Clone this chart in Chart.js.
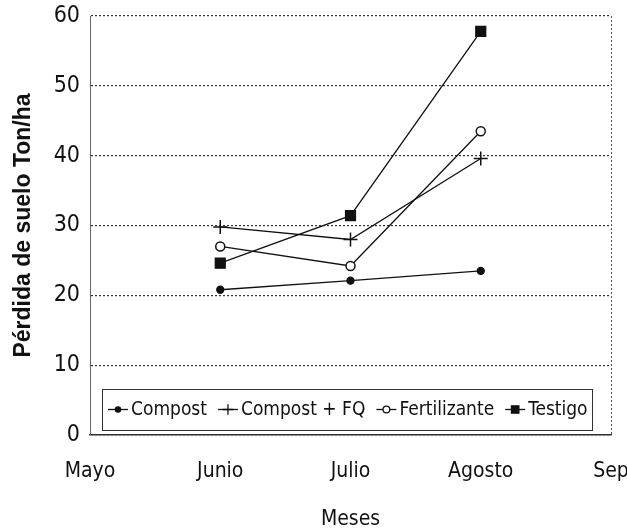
<!DOCTYPE html>
<html>
<head>
<meta charset="utf-8">
<script src="https://cdn.jsdelivr.net/npm/chart.js@4"></script>
<style>
  html, body { margin: 0; padding: 0; background: #fff; }
  #wrap { width: 627px; height: 530px; }
</style>
</head>
<body>
<div id="wrap"><canvas id="myChart" width="627" height="530"></canvas></div>
<script>
// months on the x axis
const meses = ['Mayo', 'Junio', 'Julio', 'Agosto', 'Sep'];

// soil loss Ton/ha (no data for Mayo and Sep)
const compost = [null, 20.8, 22.1, 23.5, null];
const compostFQ = [null, 29.8, 28.0, 39.6, null];
const fertilizante = [null, 27.0, 24.2, 43.5, null];
const testigo = [null, 24.6, 31.4, 57.8, null];

const narrow = "'DejaVu Sans Condensed', 'Liberation Sans', sans-serif";

// legend drawn inside the plot, in a box, like the original
const boxLegend = {
    id: 'boxLegend',
    afterDraw(chart) {
        const c = chart.ctx;
        const a = chart.chartArea;
        c.save();
        // dashed right border of plot
        c.strokeStyle = '#555';
        c.lineWidth = 1;
        c.setLineDash([2, 2]);
        c.beginPath();
        c.moveTo(a.right + 0.5, a.top);
        c.lineTo(a.right + 0.5, a.bottom);
        c.stroke();

        const x0 = a.left + 12, x1 = a.right - 19;
        const y0 = a.bottom - 46, y1 = a.bottom - 5;
        c.fillStyle = '#fff';
        c.fillRect(x0, y0, x1 - x0, y1 - y0);
        c.strokeStyle = '#333';
        c.setLineDash([]);
        c.strokeRect(x0 + 0.5, y0 + 0.5, x1 - x0, y1 - y0);

        c.font = '19px ' + narrow;
        c.textBaseline = 'middle';
        const cy = (y0 + y1) / 2;
        let x = x0 + 6;
        chart.data.datasets.forEach(ds => {
            c.strokeStyle = '#111';
            c.lineWidth = 1.3;
            c.beginPath();
            c.moveTo(x, cy);
            c.lineTo(x + 20, cy);
            c.stroke();
            c.fillStyle = ds.pointBackgroundColor;
            c.strokeStyle = '#111';
            Chart.helpers.drawPoint(c, {
                pointStyle: ds.pointStyle,
                radius: ds.pointRadius * 0.75,
                rotation: 0,
                borderWidth: 1.2
            }, x + 10, cy);
            x += 23;
            c.fillStyle = '#111';
            c.fillText(ds.label, x, cy + 1);
            x += c.measureText(ds.label).width + 11;
        });
        c.restore();
    }
};

const ctx = document.getElementById('myChart').getContext('2d');

const myChart = new Chart(ctx, {
    type: 'line',
    data: {
        labels: meses,
        datasets: [
            {
                label: 'Compost',
                data: compost,
                borderColor: '#111',
                borderWidth: 1.3,
                pointStyle: 'circle',
                pointRadius: 3.5,
                pointBackgroundColor: '#111',
                pointBorderColor: '#111'
            },
            {
                label: 'Compost + FQ',
                data: compostFQ,
                borderColor: '#111',
                borderWidth: 1.3,
                pointStyle: 'cross',
                pointRadius: 7,
                pointBorderWidth: 1.5,
                pointBackgroundColor: '#111',
                pointBorderColor: '#111'
            },
            {
                label: 'Fertilizante',
                data: fertilizante,
                borderColor: '#111',
                borderWidth: 1.3,
                pointStyle: 'circle',
                pointRadius: 4.5,
                pointBorderWidth: 1.5,
                pointBackgroundColor: '#fff',
                pointBorderColor: '#111'
            },
            {
                label: 'Testigo',
                data: testigo,
                borderColor: '#111',
                borderWidth: 1.3,
                pointStyle: 'rect',
                pointRadius: 7,
                pointBackgroundColor: '#111',
                pointBorderColor: '#111'
            }
        ]
    },
    options: {
        responsive: false,
        animation: false,
        layout: {
            padding: { top: 16, right: 16, left: 0, bottom: 0 }
        },
        plugins: {
            legend: { display: false },
            tooltip: { enabled: false }
        },
        scales: {
            x: {
                offset: false,
                grid: { display: false },
                border: { display: true, color: '#333', width: 1.5 },
                ticks: {
                    color: '#111',
                    padding: 16,
                    maxRotation: 0,
                    font: { family: narrow, size: 21 }
                },
                title: {
                    display: true,
                    text: 'Meses',
                    color: '#111',
                    padding: 0,
                    font: { family: narrow, size: 21, lineHeight: 1 }
                },
                afterFit(scale) {
                    scale.height = 95;
                    scale.paddingLeft = 0;
                    scale.paddingRight = 0;
                }
            },
            y: {
                min: 0,
                max: 60,
                grid: { color: '#333', lineWidth: 1.2, drawTicks: false },
                border: { display: true, color: '#666', width: 1, dash: [2, 2] },
                ticks: {
                    stepSize: 10,
                    color: '#111',
                    padding: 10,
                    font: { family: narrow, size: 23 }
                },
                title: {
                    display: true,
                    text: 'Pérdida de suelo Ton/ha',
                    color: '#111',
                    padding: { top: 12, bottom: 0 },
                    font: { family: "'Liberation Sans', Arial, sans-serif", size: 23, weight: 'bold', lineHeight: 1 }
                },
                afterFit(scale) {
                    scale.width = 90;
                    scale.paddingTop = 0;
                    scale.paddingBottom = 0;
                }
            }
        }
    },
    plugins: [boxLegend]
});
</script>
</body>
</html>
